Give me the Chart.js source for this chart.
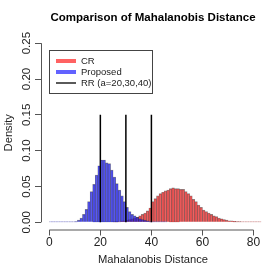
<!DOCTYPE html>
<html>
<head>
<meta charset="utf-8">
<script src="https://cdn.jsdelivr.net/npm/chart.js@4.4.0/dist/chart.umd.min.js"></script>
<style>
  html, body { margin: 0; padding: 0; background: #fff; }
  #wrap { width: 270px; height: 270px; }
</style>
</head>
<body>
<div id="wrap"><canvas id="chart" width="270" height="270"></canvas></div>
<script>
// bins of width 1, starting at 0
const binStarts = Array.from({ length: 84 }, (_, i) => i);

// histogram densities (one value per bin)
const proposedDensity = [
  0.0008, 0.0008, 0.0008, 0.0008, 0.0008, 0.0008, 0.0008, 0.0008, 0.0008, 0.0008,
  0.001, 0.003, 0.006, 0.011, 0.018, 0.029, 0.043, 0.053, 0.066, 0.079,
  0.087, 0.087, 0.083, 0.082, 0.073, 0.063, 0.054, 0.045, 0.037, 0.029,
  0.021, 0.015, 0.011, 0.009, 0.007, 0.005, 0.004, 0.003, 0.002, 0.001,
  0.0008, 0.0008, 0.0008, 0.0008, 0.0008, 0.0008
];
const crDensity = [
  0, 0, 0, 0, 0, 0, 0, 0, 0, 0,
  0, 0, 0, 0, 0, 0, 0, 0, 0, 0,
  0, 0, 0, 0, 0, 0.0008, 0.001, 0.001, 0.002, 0.002,
  0.003, 0.004, 0.005, 0.006, 0.007, 0.009, 0.011, 0.013, 0.016, 0.020,
  0.029, 0.033, 0.037, 0.040, 0.042, 0.044, 0.045, 0.047, 0.048, 0.047,
  0.047, 0.046, 0.046, 0.043, 0.040, 0.037, 0.032, 0.029, 0.024, 0.021,
  0.017, 0.015, 0.013, 0.011, 0.009, 0.008, 0.006, 0.005, 0.004, 0.003,
  0.002, 0.002, 0.0015, 0.001, 0.001, 0.0008, 0.0008, 0.0008, 0.0008, 0.0008,
  0.0008, 0.0008, 0.0008
];

// RR thresholds a = 20, 30, 40, drawn as vertical lines up to 0.15
const rrThresholds = [20, 30, 40];
const rrLineTop = 0.15;

const xTicks = [0, 20, 40, 60, 80];
const yTicks = [0, 0.05, 0.10, 0.15, 0.20, 0.25];

const legendItems = [
  { label: 'CR', color: 'rgba(255,70,70,0.85)', width: 4 },
  { label: 'Proposed', color: 'rgba(70,70,255,0.85)', width: 4 },
  { label: 'RR (a=20,30,40)', color: '#000', width: 1.3 }
];

const FONT = "'Liberation Sans', Arial, Helvetica, sans-serif";

const toBars = (vals) => vals.map((v, i) => ({ x: binStarts[i] + 0.5, y: v }));

const barStyle = {
  type: 'bar',
  grouped: false,
  barPercentage: 1,
  categoryPercentage: 1,
  borderColor: 'rgba(40,40,40,0.55)',
  borderWidth: { left: 0.5, right: 0.5, top: 0.7, bottom: 0 },
  borderSkipped: false
};

const rrDatasets = rrThresholds.map((a) => ({
  type: 'line',
  label: 'RR a=' + a,
  data: [{ x: a, y: 0 }, { x: a, y: rrLineTop }],
  borderColor: '#000',
  borderWidth: 1.5,
  pointRadius: 0,
  order: 0
}));

// R-style axes: lines only from first to last tick, rotated y labels, boxed legend
const rStyle = {
  id: 'rStyle',
  afterDraw(chart) {
    const { ctx, chartArea, scales } = chart;
    const xs = scales.x, ys = scales.y;
    ctx.save();
    ctx.strokeStyle = '#555';
    ctx.lineWidth = 1;
    ctx.beginPath();
    ctx.moveTo(xs.getPixelForValue(xTicks[0]), chartArea.bottom + 0.5);
    ctx.lineTo(xs.getPixelForValue(xTicks[xTicks.length - 1]), chartArea.bottom + 0.5);
    ctx.moveTo(chartArea.left + 0.5, ys.getPixelForValue(yTicks[0]));
    ctx.lineTo(chartArea.left + 0.5, ys.getPixelForValue(yTicks[yTicks.length - 1]));
    ctx.stroke();

    // y tick labels, parallel to the axis
    ctx.fillStyle = '#222';
    ctx.font = '11.5px ' + FONT;
    ctx.textAlign = 'center';
    ctx.textBaseline = 'middle';
    yTicks.forEach((v) => {
      ctx.save();
      ctx.translate(chartArea.left - 14, ys.getPixelForValue(v));
      ctx.rotate(-Math.PI / 2);
      ctx.fillText(v.toFixed(2), 0, 0);
      ctx.restore();
    });

    // legend box
    const bx = 49, by = 50, bw = 103, bh = 43;
    ctx.strokeStyle = '#444';
    ctx.strokeRect(bx + 0.5, by + 0.5, bw, bh);
    ctx.font = '9.5px ' + FONT;
    ctx.textAlign = 'left';
    legendItems.forEach((item, i) => {
      const y = by + 11 + i * 11;
      ctx.strokeStyle = item.color;
      ctx.lineWidth = item.width;
      ctx.beginPath();
      ctx.moveTo(bx + 7, y);
      ctx.lineTo(bx + 27, y);
      ctx.stroke();
      ctx.fillStyle = '#222';
      ctx.fillText(item.label, bx + 32, y);
    });
    ctx.restore();
  }
};

new Chart(document.getElementById('chart'), {
  data: {
    datasets: [
      ...rrDatasets,
      { ...barStyle, label: 'Proposed', data: toBars(proposedDensity), backgroundColor: 'rgba(30,30,240,0.72)', order: 1 },
      { ...barStyle, label: 'CR', data: toBars(crDensity), backgroundColor: 'rgba(240,40,40,0.72)', order: 2 }
    ]
  },
  options: {
    responsive: false,
    animation: false,
    devicePixelRatio: 1,
    layout: { padding: { left: 0, right: 5, top: 0, bottom: 0 } },
    plugins: {
      legend: { display: false },
      tooltip: { enabled: false },
      title: {
        display: true,
        text: 'Comparison of Mahalanobis Distance',
        fullSize: false,
        color: '#000',
        font: { family: FONT, size: 11.5, weight: 'bold' },
        padding: { top: 11, bottom: 11.2 }
      }
    },
    scales: {
      x: {
        type: 'linear',
        offset: false,
        min: -3.25,
        max: 84.5,
        afterBuildTicks: (s) => { s.ticks = xTicks.map((v) => ({ value: v })); },
        afterFit: (s) => { s.height = 40.5; },
        border: { display: false },
        grid: { offset: false, drawOnChartArea: false, drawTicks: true, tickLength: 6, color: '#555' },
        ticks: { padding: 0, color: '#222', font: { family: FONT, size: 12 } },
        title: {
          display: true,
          text: 'Mahalanobis Distance',
          color: '#222',
          font: { family: FONT, size: 11.2 },
          padding: { top: 0, bottom: 3.4 }
        }
      },
      y: {
        min: -0.01,
        max: 0.26,
        afterBuildTicks: (s) => { s.ticks = yTicks.map((v) => ({ value: v })); },
        afterFit: (s) => { s.width = 41; },
        border: { display: false },
        grid: { drawOnChartArea: false, drawTicks: true, tickLength: 6, color: '#555' },
        ticks: { display: false },
        title: {
          display: true,
          text: 'Density',
          color: '#222',
          font: { family: FONT, size: 11.2 },
          padding: { top: 2, bottom: 0 }
        }
      }
    }
  },
  plugins: [rStyle]
});
</script>
</body>
</html>
